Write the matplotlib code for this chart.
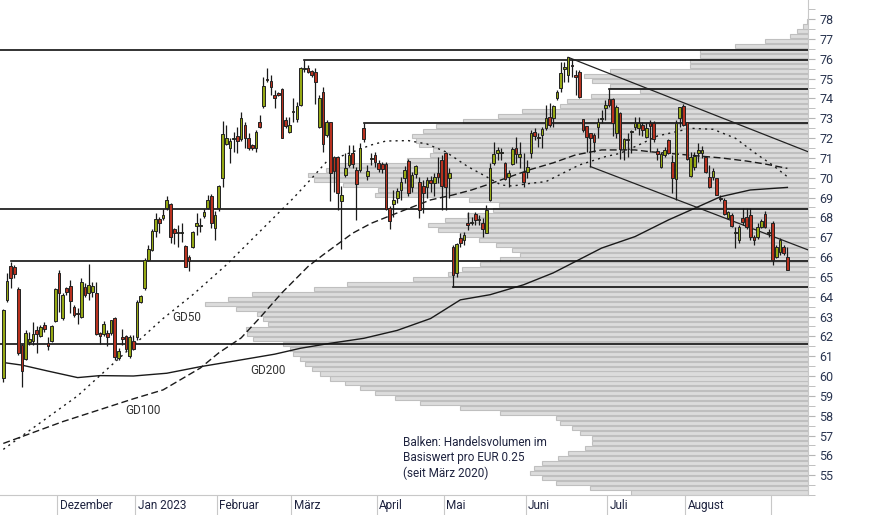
import numpy as np
import matplotlib
matplotlib.use("Agg")
import matplotlib.pyplot as plt
from matplotlib.patches import Rectangle
from matplotlib.ticker import MultipleLocator

plt.rcParams['font.family'] = ['Roboto', 'DejaVu Sans']

# ---------------- data ----------------
opens = [59.9, 63.81, 65.55, 65.49, 64.39, 61.57, 60.85, 61.69, 61.79, 62.33,
         62.03, 62.56, 61.66, 61.79, 62.75, 65.18, 62.92, 64.43, 64.55, 63.47,
         63.17, 63.0, 64.48, 64.18, 64.26, 64.18, 62.16, 62.13, 62.19, 62.19,
         62.92, 60.9, 61.96, 62.03, 61.02, 61.79, 61.96, 63.75, 64.43, 65.85,
         66.35, 67.3, 67.9, 67.99, 68.46, 68.66, 67.42, 67.28, 67.23, 66.56,
         66.0, 66.52, 67.58, 67.57, 68.09, 68.49, 69.1, 67.48, 68.49, 69.97,
         71.68, 71.48, 71.93, 72.1, 71.95, 72.66, 71.99, 71.65, 71.52, 72.79,
         73.63, 74.98, 74.88, 74.17, 74.25, 74.47, 72.91, 72.32, 73.29, 72.94,
         73.67, 75.48, 75.55, 75.38, 75.31, 72.57, 74.34, 72.16, 72.79, 71.06,
         71.06, 68.84, 70.14, 70.64, 71.26, 70.39, 70.39, 72.49, 70.11, 70.96,
         71.14, 70.76, 70.69, 70.69, 68.46, 68.67, 68.99, 69.38, 69.97, 70.86,
         69.55, 70.19, 69.8, 69.58, 69.51, 69.88, 69.75, 70.25, 70.89, 71.23,
         69.97, 66.52, 65.18, 66.98, 66.86, 67.7, 67.74, 68.15, 67.88, 67.7,
         67.23, 68.88, 70.76, 71.23, 71.23, 70.73, 70.05, 70.69, 71.48, 71.06,
         70.3, 70.3, 71.26, 72.32, 72.0, 72.15, 72.49, 73.08, 72.99, 74.0,
         74.5, 75.5, 75.18, 75.64, 75.18, 75.31, 72.94, 72.6, 72.24, 72.15,
         72.54, 72.95, 73.5, 73.95, 73.99, 72.24, 73.28, 71.43, 71.9, 72.3,
         72.57, 72.49, 72.66, 72.03, 72.74, 72.74, 71.35, 70.55, 71.14, 71.9,
         70.81, 69.92, 72.99, 73.62, 72.79, 70.09, 70.52, 71.23, 71.23, 71.02,
         70.02, 70.05, 69.97, 68.99, 68.88, 67.99, 68.12, 67.2, 66.86, 67.95,
         68.04, 68.12, 67.03, 67.03, 67.53, 68.17, 67.2, 67.7, 66.02, 66.27,
         66.52, 66.02]
closes = [63.33, 64.8, 64.93, 65.15, 61.15, 60.23, 62.16, 61.86, 62.11, 62.11,
          62.46, 62.36, 61.49, 62.53, 64.38, 64.18, 64.06, 64.26, 63.76, 63.08,
          63.12, 64.76, 64.09, 64.6, 64.55, 62.13, 62.03, 62.63, 61.99, 62.8,
          60.98, 61.28, 61.89, 61.35, 61.99, 61.38, 63.72, 64.04, 65.85, 66.4,
          67.3, 67.9, 67.7, 68.12, 68.88, 67.03, 67.2, 67.2, 67.25, 65.52,
          65.8, 67.25, 67.7, 67.6, 68.29, 68.88, 67.74, 68.12, 69.58, 72.2,
          71.99, 71.85, 71.95, 71.85, 72.99, 71.99, 71.48, 71.52, 72.32, 72.57,
          74.62, 74.91, 74.59, 74.0, 74.17, 71.99, 72.62, 72.66, 73.3, 73.63,
          75.55, 75.5, 75.35, 75.18, 74.81, 74.0, 71.68, 72.83, 70.22, 70.35,
          69.25, 69.11, 70.47, 71.14, 70.69, 69.68, 71.48, 71.93, 70.34, 71.0,
          70.81, 70.42, 70.42, 68.41, 67.84, 68.88, 69.33, 69.8, 70.39, 69.25,
          70.14, 70.59, 68.37, 69.21, 69.88, 69.75, 70.05, 70.05, 69.58, 69.55,
          70.25, 65.1, 66.66, 66.69, 67.11, 67.62, 67.79, 67.87, 67.9, 67.4,
          68.37, 70.47, 71.18, 71.4, 71.25, 69.92, 70.22, 71.43, 71.2, 71.2,
          69.8, 70.52, 72.24, 72.1, 72.03, 72.45, 72.99, 72.66, 73.62, 74.34,
          75.29, 75.6, 76.07, 75.62, 75.06, 74.08, 72.4, 72.03, 71.99, 71.82,
          72.82, 72.98, 73.66, 73.66, 72.78, 73.55, 71.43, 71.93, 71.92, 72.32,
          72.74, 72.77, 72.41, 72.49, 72.6, 71.93, 71.2, 71.19, 71.4, 71.23,
          69.97, 72.74, 73.55, 72.66, 70.93, 71.02, 71.09, 71.4, 71.4, 70.3,
          69.51, 70.35, 69.13, 68.95, 68.17, 68.25, 67.57, 67.25, 67.53, 67.78,
          67.53, 67.03, 66.86, 67.53, 67.82, 67.53, 67.25, 65.85, 66.52, 66.86,
          66.22, 65.35]
highs = [63.4, 65.2, 65.77, 65.6, 64.5, 61.6, 62.33, 62.24, 62.7, 62.5,
         62.58, 62.7, 61.96, 62.58, 64.43, 65.35, 64.17, 64.5, 64.85, 63.6,
         63.42, 64.93, 64.68, 65.65, 64.76, 64.76, 62.2, 62.75, 62.33, 62.83,
         63.0, 61.4, 62.36, 62.08, 62.08, 62.08, 63.84, 64.1, 65.94, 66.6,
         67.4, 68.2, 68.0, 68.42, 69.1, 68.7, 67.45, 67.6, 67.7, 66.6,
         66.1, 67.3, 68.2, 67.95, 68.42, 69.13, 69.2, 68.3, 69.63, 72.86,
         72.66, 71.99, 72.28, 72.57, 73.33, 72.83, 72.24, 71.7, 72.4, 73.16,
         75.09, 75.51, 75.18, 74.42, 74.3, 74.5, 73.08, 73.08, 74.04, 73.83,
         75.6, 75.93, 75.68, 75.43, 75.51, 74.17, 74.59, 72.91, 72.79, 71.1,
         71.1, 69.58, 71.23, 71.65, 71.65, 70.56, 71.73, 72.74, 70.64, 71.23,
         71.3, 70.9, 70.8, 70.8, 68.58, 69.38, 69.47, 70.05, 70.6, 70.95,
         70.3, 70.64, 70.05, 69.9, 70.05, 70.1, 70.22, 71.06, 71.14, 71.3,
         70.5, 66.6, 66.7, 67.2, 67.28, 68.29, 68.0, 68.29, 68.1, 67.95,
         68.6, 70.73, 71.82, 71.57, 71.5, 70.8, 70.4, 71.57, 72.03, 71.82,
         71.23, 70.9, 72.4, 72.49, 72.27, 72.57, 73.66, 73.75, 73.66, 74.42,
         75.85, 75.85, 76.1, 76.0, 75.43, 75.43, 72.94, 72.6, 72.24, 72.24,
         72.99, 73.41, 73.92, 74.45, 74.04, 73.66, 73.3, 71.99, 72.24, 72.41,
         73.08, 73.04, 72.83, 72.74, 72.91, 72.87, 71.5, 71.31, 71.53, 71.93,
         71.14, 72.91, 73.58, 73.7, 72.83, 71.31, 71.31, 71.73, 71.6, 71.1,
         70.64, 70.5, 69.97, 69.13, 68.96, 68.3, 68.2, 67.53, 67.6, 68.46,
         68.46, 68.46, 67.1, 67.7, 67.9, 68.3, 67.4, 67.8, 66.6, 66.95,
         66.6, 66.52]
lows = [59.7, 63.75, 64.43, 64.93, 61.07, 59.44, 60.8, 61.57, 61.57, 61.15,
        61.96, 62.2, 61.29, 61.74, 62.7, 63.25, 62.83, 64.1, 63.17, 63.0,
        62.63, 62.92, 64.0, 63.84, 64.0, 62.08, 61.6, 62.03, 61.49, 62.08,
        60.82, 60.82, 61.57, 61.24, 60.9, 61.32, 61.82, 63.7, 64.34, 65.8,
        66.3, 67.0, 67.2, 67.87, 68.37, 66.7, 66.64, 66.5, 66.78, 65.5,
        65.27, 66.44, 67.1, 67.28, 67.95, 68.42, 67.45, 66.86, 68.3, 69.55,
        71.65, 70.72, 71.31, 71.23, 71.85, 71.48, 71.4, 71.4, 71.31, 72.49,
        73.53, 74.84, 74.17, 73.5, 74.1, 71.99, 72.49, 72.24, 72.83, 72.83,
        73.63, 75.35, 75.26, 75.09, 73.7, 72.52, 71.31, 72.07, 68.8, 69.3,
        68.37, 66.4, 70.05, 70.56, 70.5, 67.87, 70.3, 71.82, 69.88, 70.64,
        70.56, 70.3, 70.22, 68.37, 67.41, 68.0, 68.7, 68.9, 69.72, 69.1,
        69.3, 70.0, 67.95, 68.2, 69.0, 69.3, 69.1, 69.72, 68.37, 68.37,
        68.96, 64.5, 65.0, 66.52, 66.6, 67.36, 67.6, 67.6, 67.6, 67.03,
        67.2, 68.8, 70.64, 70.9, 70.9, 69.9, 69.55, 70.64, 70.73, 70.5,
        69.55, 69.97, 70.98, 71.9, 71.53, 71.48, 72.4, 72.57, 72.54, 73.92,
        74.34, 74.85, 74.85, 75.09, 74.17, 74.0, 72.3, 71.31, 70.56, 71.31,
        71.99, 72.74, 72.91, 73.58, 72.1, 71.99, 70.93, 70.9, 71.06, 71.23,
        72.4, 72.15, 72.1, 71.98, 71.31, 71.82, 70.9, 70.47, 71.06, 71.2,
        69.21, 68.88, 72.57, 72.6, 70.9, 70.02, 70.39, 70.81, 71.0, 70.22,
        69.46, 69.9, 69.13, 68.8, 68.1, 67.9, 67.5, 66.44, 66.7, 67.6,
        67.4, 66.86, 66.6, 66.9, 67.45, 67.45, 67.0, 65.6, 65.95, 66.1,
        66.1, 65.35]

# moving averages read at sample candles
gd50_idx = [0, 20, 43, 51, 60, 69, 78, 83, 87, 99, 103, 109, 114, 119, 125, 130, 134,
            137, 142, 146, 155, 162, 166, 171, 176, 185, 191, 197, 203, 207, 211]
gd50_val = [56.3, 59.0, 62.9, 64.1, 65.6, 67.28, 68.96, 69.97, 70.81, 71.65, 71.85,
            71.87, 71.7, 71.31, 70.56, 70.05, 69.63, 69.58, 69.72, 69.8, 70.64, 71.06,
            71.23, 71.65, 72.1, 72.49, 72.44, 71.99, 71.15, 70.64, 70.05]
gd100_idx = [0, 16, 35, 43, 53, 58, 64, 69, 75, 82, 86, 94, 99, 103, 108, 115, 121,
             126, 130, 142, 148, 154, 161, 170, 174, 193, 200, 205, 211]
gd100_val = [56.6, 57.7, 58.85, 59.3, 60.4, 61.17, 61.92, 62.93, 64.2, 65.52, 66.1,
             67.2, 67.7, 68.0, 68.37, 68.88, 69.13, 69.38, 69.63, 70.42, 70.75, 71.15,
             71.4, 71.4, 71.31, 71.0, 70.84, 70.69, 70.47]
gd200_idx = [0, 5, 12, 20, 26, 35, 44, 53, 62, 73, 80, 88, 97, 106, 115, 123, 131,
             140, 148, 161, 170, 179, 188, 193, 201, 211]
gd200_val = [60.68, 60.55, 60.25, 59.92, 60.02, 60.0, 60.14, 60.47, 60.75, 61.1, 61.4,
             61.65, 61.9, 62.3, 62.9, 63.84, 64.1, 64.6, 65.2, 66.45, 67.03, 67.87,
             68.62, 69.04, 69.38, 69.51]

# volume profile (price band lower bound, volume in relative units)
vp_low = list(np.arange(54.0, 78.01, 0.25))
vp_vol = [17.7, 21.8, 25.2, 26.6, 27.8, 27.4, 26.6, 25.0, 24.0, 22.3,
          21.6, 21.6, 22.8, 23.6, 24.8, 25.2, 30.8, 34.8, 38.8, 41.3,
          43.3, 44.8, 46.3, 47.8, 48.8, 49.6, 50.3, 50.8, 51.5, 51.8,
          52.5, 55.5, 56.1, 56.2, 54.0, 54.5, 55.1, 57.2, 60.3, 58.0,
          55.6, 49.4, 46.1, 39.5, 36.0, 34.6, 32.8, 30.8, 28.8, 29.6,
          31.2, 32.9, 34.8, 37.0, 38.0, 36.3, 34.1, 31.5, 30.9, 33.9,
          43.3, 43.0, 46.5, 49.4, 50.0, 48.2, 47.3, 40.1, 37.8, 37.5,
          38.9, 39.2, 39.6, 38.5, 37.2, 34.5, 31.0, 28.6, 24.8, 24.1,
          21.7, 16.8, 19.8, 21.6, 22.4, 19.8, 11.8, 11.8, 10.8, 10.8,
          7.3, 4.3, 1.8, 1.1, 0.5, 0.13, 0.0]

# horizontal support / resistance lines: (price, start candle)
hlines_price = [76.45, 75.93, 74.46, 72.74, 68.42, 65.79, 64.49, 61.6]
hlines_start = [None, 81, 163, 97, None, 2, 121, None]
# trend lines: (start candle, start price, end price at right edge)
trend_start_idx = [152, 158]
trend_start_val = [76.07, 70.56]
trend_end_val = [71.31, 66.36]

month_first_idx = [15, 36, 58, 78, 101, 119, 141, 163, 184, 207]
month_labels = ["Dezember", "Jan 2023", "Februar", "März", "April", "Mai",
                "Juni", "Juli", "August", ""]

# ---------------- drawing ----------------
W, H = 874, 515
fig = plt.figure(figsize=(W / 100, H / 100), dpi=100)
ax = fig.add_axes([0, 20 / H, 808 / W, 495 / H])
n = len(opens)
x0, x1 = -0.89, 216.55
ax.set_xlim(x0, x1)
ax.set_ylim(54.0, 78.96)

# volume profile on a twin axis, drawn behind
axv = ax.twiny()
axv.set_xlim(80.8, 0)
axv.barh(np.array(vp_low) + 0.125, vp_vol, height=0.205, color='#dcdcdc',
         edgecolor='#bfbfbf', linewidth=0.8)
axv.set_xticks([])
for s in axv.spines.values():
    s.set_visible(False)
ax.set_zorder(axv.get_zorder() + 1)
ax.patch.set_visible(False)

# moving averages
ax.plot(gd200_idx, gd200_val, color='#1a1a1a', lw=1.0, zorder=3)
ax.plot(gd100_idx, gd100_val, color='#1a1a1a', lw=1.0, ls=(0, (5, 2.5)), zorder=3)
ax.plot(gd50_idx, gd50_val, color='#1a1a1a', lw=1.0, ls=(0, (1.5, 3)), zorder=3)

# horizontal lines
for p, s in zip(hlines_price, hlines_start):
    xs = x0 if s is None else s
    ax.plot([xs, x1], [p, p], color='#111111', lw=1.2, zorder=4)
# trend lines
for si, sv, ev in zip(trend_start_idx, trend_start_val, trend_end_val):
    ax.plot([si, x1], [sv, ev], color='#222222', lw=0.9, zorder=4)

# candles
idx = np.arange(n)
ax.vlines(idx, lows, highs, color='#1a1a1a', lw=0.9, zorder=5)
bw = 0.72
for i in range(n):
    o, c = opens[i], closes[i]
    up = c >= o
    col = '#95a814' if up else '#b8311f'
    bot = min(o, c)
    h = max(abs(c - o), 0.05)
    ax.add_patch(Rectangle((i - bw / 2, bot), bw, h, facecolor=col,
                           edgecolor='#222222', lw=0.7, zorder=6))

# labels for averages
ax.text(45.4, 62.95, 'GD50', fontsize=8.5, color='#333333', va='center', ha='left')
ax.text(32.7, 58.25, 'GD100', fontsize=8.5, color='#333333', va='center', ha='left')
ax.text(66.4, 60.3, 'GD200', fontsize=8.5, color='#333333', va='center', ha='left')

ax.text(107.5, 57.0, 'Balken: Handelsvolumen im\nBasiswert pro EUR 0.25\n(seit März 2020)',
        fontsize=8.5, color='#1f2440', va='top', ha='left', linespacing=1.25)

# axes styling
for k in ['top', 'left']:
    ax.spines[k].set_visible(False)
ax.spines['right'].set_color('#c8c8c8')
ax.spines['bottom'].set_color('#c8c8c8')
ax.yaxis.tick_right()
ax.yaxis.set_minor_locator(MultipleLocator(0.5))
ax.set_yticks(np.arange(55, 79, 1))
ax.tick_params(axis='y', which='major', length=5, color='#b5b5b5', labelsize=9,
               labelcolor='#2a3550', pad=3)
ax.tick_params(axis='y', which='minor', length=5, color='#b5b5b5')
tick_pos = [m - 0.45 for m in month_first_idx]
ax.set_xticks(tick_pos)
ax.set_xticklabels([])
ax.tick_params(axis='x', length=15, color='#c8c8c8', direction='out')
for tp, lab in zip(tick_pos, month_labels):
    ax.text(tp + 0.6, -0.022, lab, transform=ax.get_xaxis_transform(), fontsize=8.5,
            color='#1f2440', va='center', ha='left')

fig.savefig('out.png', dpi=100)
